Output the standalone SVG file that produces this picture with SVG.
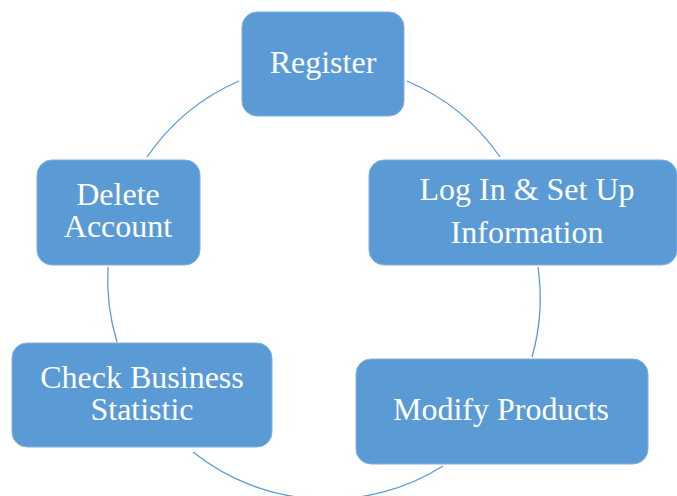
<svg xmlns="http://www.w3.org/2000/svg" width="677" height="496" viewBox="0 0 677 496">
<style>
.box{fill:#5B9BD5;stroke:#7FB0DE;stroke-width:1}
.lbl{font-family:"Liberation Serif","Times New Roman",serif;font-size:32px;fill:#FFFFFF;text-anchor:middle}
.arc{fill:none;stroke:#5B9BD5;stroke-width:1.3}
</style>
<rect width="677" height="496" fill="#FFFFFF"/>
<g id="connectors">
<path class="arc" d="M407,81 A216,216 0 0 1 500,157"/>
<path class="arc" d="M538,267 A216,216 0 0 1 532,357"/>
<path class="arc" d="M443,466 A216,216 0 0 1 193,452"/>
<path class="arc" d="M117,342 A216,216 0 0 1 108,267"/>
<path class="arc" d="M147,157 A216,216 0 0 1 239,81"/>
</g>
<g id="register">
<rect class="box" x="242" y="12" width="162" height="104" rx="15"/>
<text class="lbl" x="323" y="73">Register</text>
</g>
<g id="login">
<rect class="box" x="369" y="160" width="308" height="105" rx="15"/>
<text class="lbl" x="527" y="200">Log In &amp; Set Up</text>
<text class="lbl" x="527" y="243">Information</text>
</g>
<g id="modify">
<rect class="box" x="356" y="359" width="292" height="105" rx="15"/>
<text class="lbl" x="501" y="420">Modify Products</text>
</g>
<g id="check">
<rect class="box" x="12" y="343" width="260" height="104" rx="15"/>
<text class="lbl" x="142" y="388">Check Business</text>
<text class="lbl" x="142" y="420">Statistic</text>
</g>
<g id="delete">
<rect class="box" x="37" y="160" width="163" height="105" rx="15"/>
<text class="lbl" x="118" y="205">Delete</text>
<text class="lbl" x="118" y="237">Account</text>
</g>
</svg>
